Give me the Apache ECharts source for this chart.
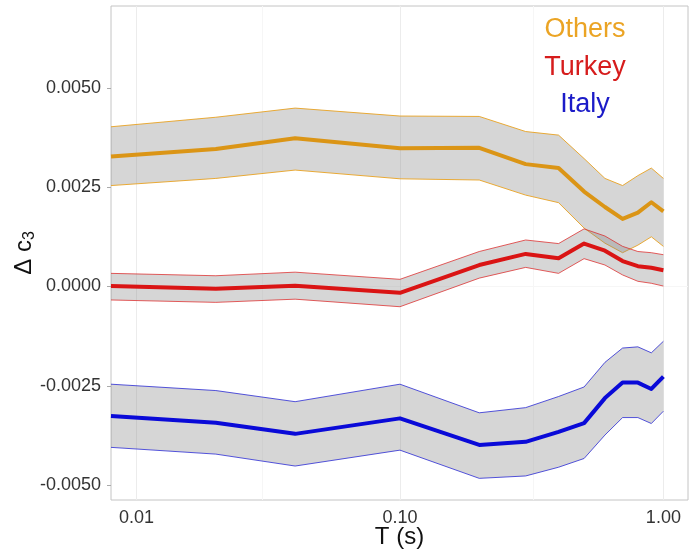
<!DOCTYPE html>
<html>
<head>
<meta charset="utf-8">
<script src="https://cdn.jsdelivr.net/npm/echarts@6/dist/echarts.min.js"></script>
<style>
  html, body { margin: 0; padding: 0; background: #fff; }
  #chart { width: 691px; height: 556px; }
</style>
</head>
<body>
<div id="chart"></div>
<script>
// Spectral periods T (s); the first entry is PGA, pinned to the left edge of the log axis
var periods = [0.008, 0.02, 0.04, 0.1, 0.2, 0.3, 0.4, 0.5, 0.6, 0.7, 0.8, 0.9, 1.0];

// Δc3 estimates with their confidence bounds per region
var othersMean  = [0.00327, 0.00346, 0.00373, 0.00348, 0.00349, 0.00308, 0.00298, 0.00239, 0.00200, 0.00170, 0.00186, 0.00212, 0.00189];
var othersUpper = [0.00402, 0.00426, 0.00449, 0.00429, 0.00428, 0.00390, 0.00381, 0.00322, 0.00272, 0.00254, 0.00279, 0.00298, 0.00272];
var othersLower = [0.00254, 0.00272, 0.00293, 0.00271, 0.00268, 0.00230, 0.00211, 0.00147, 0.00109, 0.00085, 0.00104, 0.00125, 0.00101];

var turkeyMean  = [0.00001, -0.00006, 0.00002, -0.00016, 0.00054, 0.00082, 0.00071, 0.00108, 0.00090, 0.00064, 0.00051, 0.00047, 0.00041];
var turkeyUpper = [0.00033, 0.00027, 0.00036, 0.00018, 0.00088, 0.00117, 0.00108, 0.00145, 0.00127, 0.00101, 0.00088, 0.00085, 0.00080];
var turkeyLower = [-0.00034, -0.00040, -0.00032, -0.00051, 0.00021, 0.00048, 0.00033, 0.00070, 0.00054, 0.00029, 0.00013, 0.00008, 0.00001];

var italyMean  = [-0.00326, -0.00343, -0.00371, -0.00332, -0.00399, -0.00391, -0.00366, -0.00344, -0.00281, -0.00242, -0.00242, -0.00258, -0.00227];
var italyUpper = [-0.00246, -0.00262, -0.00290, -0.00246, -0.00318, -0.00305, -0.00277, -0.00253, -0.00191, -0.00155, -0.00152, -0.00167, -0.00138];
var italyLower = [-0.00405, -0.00422, -0.00452, -0.00412, -0.00483, -0.00477, -0.00455, -0.00433, -0.00374, -0.00330, -0.00330, -0.00345, -0.00314];

// Axis ticks and grid
var xTicks = [0.01, 0.1, 1];
var xMinorGrid = [0.0316228, 0.316228];
var yTicks = [-0.005, -0.0025, 0, 0.0025, 0.005];
var yMinorGrid = [-0.00375, -0.00125, 0.00125, 0.00375, 0.00625];

var regions = [
  { name: 'Others', mean: othersMean, upper: othersUpper, lower: othersLower, line: '#DB9516', edge: 'rgba(232,162,34,0.9)', label: '#EBA424' },
  { name: 'Turkey', mean: turkeyMean, upper: turkeyUpper, lower: turkeyLower, line: '#DA1414', edge: 'rgba(220,40,40,0.75)', label: '#D61C1C' },
  { name: 'Italy',  mean: italyMean,  upper: italyUpper,  lower: italyLower,  line: '#0A0AD8', edge: 'rgba(30,30,210,0.75)', label: '#1B1BC8' }
];

function pairs(ys) {
  return periods.map(function (t, i) { return [t, ys[i]]; });
}

var FONT = '"Liberation Sans", Arial, sans-serif';
var series = [];

// faint major/minor grid drawn behind everything
series.push({
  type: 'line', data: [], z: 1, silent: true,
  markLine: {
    silent: true, symbol: 'none', label: { show: false }, animation: false, z: 1,
    data: []
      .concat(yTicks.map(function (v) { return { yAxis: v, lineStyle: { color: '#ececec', width: 1, type: 'solid' } }; }))
      .concat(yMinorGrid.map(function (v) { return { yAxis: v, lineStyle: { color: '#f6f6f6', width: 1, type: 'solid' } }; }))
      .concat(xTicks.map(function (v) { return { xAxis: v, lineStyle: { color: '#ececec', width: 1, type: 'solid' } }; }))
      .concat(xMinorGrid.map(function (v) { return { xAxis: v, lineStyle: { color: '#f6f6f6', width: 1, type: 'solid' } }; }))
  }
});

// confidence ribbons: polygon between lower and upper bounds, mapped via the axes
regions.forEach(function (r) {
  series.push({
    type: 'custom', name: r.name + ' band', z: 3, silent: true, animation: false,
    coordinateSystem: 'cartesian2d', clip: true,
    data: [[periods[0], r.mean[0]]],
    renderItem: function (params, api) {
      var up = periods.map(function (t, i) { return api.coord([t, r.upper[i]]); });
      var lo = periods.map(function (t, i) { return api.coord([t, r.lower[i]]); });
      var ring = up.concat(lo.slice().reverse());
      return {
        type: 'group',
        children: [
          { type: 'polygon', shape: { points: ring }, style: { fill: 'rgba(128,128,128,0.32)', stroke: null } },
          { type: 'polyline', shape: { points: up }, style: { stroke: r.edge, lineWidth: 1, fill: null } },
          { type: 'polyline', shape: { points: lo }, style: { stroke: r.edge, lineWidth: 1, fill: null } }
        ]
      };
    }
  });
});

regions.forEach(function (r) {
  series.push({
    type: 'line', name: r.name, data: pairs(r.mean),
    symbol: 'none', z: 4, silent: true, animation: false,
    lineStyle: { color: r.line, width: 4, join: 'round', cap: 'butt' }
  });
});

var option = {
  backgroundColor: '#ffffff',
  animation: false,
  grid: {
    left: 111, right: 3, top: 6, bottom: 56, containLabel: false, outerBoundsMode: 'none',
    show: true, borderColor: '#c4c4c4', borderWidth: 1, backgroundColor: 'transparent'
  },
  xAxis: {
    type: 'log', logBase: 10, min: 0.008, max: 1.24,
    name: 'T (s)', nameLocation: 'middle', nameGap: 25, nameMoveOverlap: false,
    nameTextStyle: { fontFamily: FONT, fontSize: 24, color: '#111' },
    axisLine: { show: false },
    axisTick: { show: true, customValues: xTicks, length: 4, lineStyle: { color: '#aaa' } },
    axisLabel: {
      customValues: xTicks, margin: 9, fontFamily: FONT, fontSize: 18, color: '#333',
      formatter: function (v) { return Number(v).toFixed(2); }
    },
    splitLine: { show: false }, minorSplitLine: { show: false }
  },
  yAxis: {
    type: 'value', min: -0.005375, max: 0.00706,
    name: 'Δ c{s|3}', nameLocation: 'middle', nameRotate: 90, nameGap: 73, nameMoveOverlap: false,
    nameTextStyle: {
      fontFamily: FONT, fontSize: 24, color: '#111',
      rich: { s: { fontFamily: FONT, fontSize: 16, color: '#111', padding: [11, 0, 0, 0] } }
    },
    axisLine: { show: false },
    axisTick: { show: true, customValues: yTicks, length: 4, lineStyle: { color: '#aaa' } },
    axisLabel: {
      customValues: yTicks, margin: 10, fontFamily: FONT, fontSize: 18, color: '#333',
      formatter: function (v) { return Number(v).toFixed(4); }
    },
    splitLine: { show: false }
  },
  graphic: regions.map(function (r, i) {
    return {
      type: 'text', x: 585, y: 30 + i * 37.5, z: 10, silent: true,
      style: {
        text: r.name, fill: r.label, fontFamily: FONT, fontSize: 27,
        textAlign: 'center', textVerticalAlign: 'middle'
      }
    };
  }),
  series: series
};

var chart = echarts.init(document.getElementById('chart'), null, { renderer: 'canvas' });
chart.setOption(option);
</script>
</body>
</html>
